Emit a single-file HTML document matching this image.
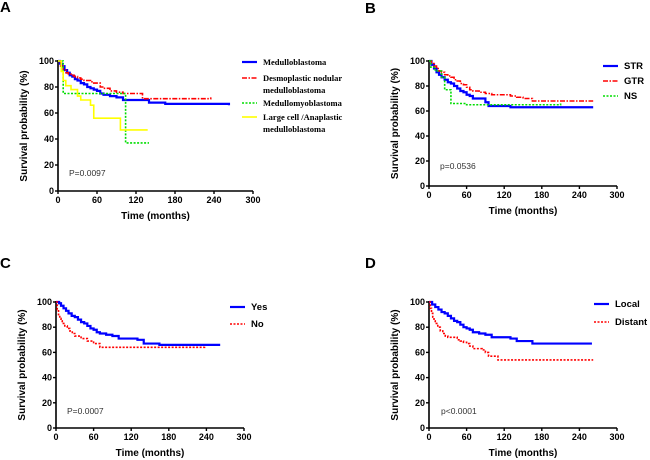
<!DOCTYPE html>
<html><head><meta charset="utf-8"><style>
html,body{margin:0;padding:0;background:#fff;width:650px;height:460px;overflow:hidden}
svg{display:block}
text{font-family:"Liberation Sans",Arial,sans-serif}
.lg{font-family:"Liberation Serif",serif;font-weight:bold;font-size:8.5px}
</style></head><body>
<svg id="c" width="650" height="460"></svg>
<script>
const ticksX=[0,60,120,180,240,300];
const ticksY=[0,20,40,60,80,100];
// Panel A
const aBlueT=[0,3,6,10,14,18,22,26,30,35,40,45,50,55,60,65,70,80,90,100,130,140,165,263];
const aBlueS=[100,98,96,93,91,89,88,86,85,83,82,80,79,78,77,75,74,73,72,70,70,68,67,66];
const aRedT=[0,4,8,12,16,20,25,30,35,40,50,55,60,65,70,80,90,100,128,130,235];
const aRedS=[100,96,93,91,90,89,88,87,86,85,84,83,83,80,79,77,76,75,75,71,72];
const aGreenT=[0,5,8,104,104,140];
const aGreenS=[100,100,75,75,37,37];
const aYellowT=[0,5,8,12,20,30,35,48,50,55,95,96,138];
const aYellowS=[100,92,85,81,78,73,70,70,66,56,56,47,47];
// Panel B
const bStrT=[0,4,8,12,16,20,25,30,35,40,45,50,55,60,65,70,85,90,95,130,262];
const bStrS=[100,97,94,91,89,87,85,83,82,80,78,76,75,73,72,70,70,67,64,63,63];
const bGtrT=[0,4,8,12,16,20,25,30,35,40,45,50,55,60,65,70,80,90,100,110,130,140,150,165,200,262];
const bGtrS=[100,98,96,94,92,91,89,88,87,85,84,82,81,79,77,76,75,74,73,73,72,71,70,68,68,68];
const bNsT=[0,3,10,20,25,35,60,210];
const bNsS=[100,95,92,87,77,66,65,66];
// Panel C
const cYesT=[0,5,8,12,16,20,25,30,35,40,45,50,55,60,65,70,80,90,100,130,140,165,262];
const cYesS=[100,99,97,95,93,91,89,88,86,84,83,81,79,78,76,75,74,73,71,70,67,66,66];
const cNoT=[0,2,4,6,8,10,14,18,22,26,30,40,50,60,70,100,237];
const cNoS=[100,94,90,87,85,83,81,79,77,75,73,71,69,67,64,64,65];
// Panel D
const dLocT=[0,5,10,15,20,25,30,35,40,45,50,55,60,65,70,80,90,100,130,140,165,260];
const dLocS=[100,98,96,94,92,91,89,87,85,84,82,80,79,78,76,75,74,72,71,69,67,67];
const dDisT=[0,2,4,6,8,10,14,18,22,26,30,45,50,55,60,65,70,85,90,95,110,262];
const dDisS=[100,95,91,88,85,83,80,77,75,73,72,70,69,68,67,65,63,62,60,57,54,54];

const NS='http://www.w3.org/2000/svg';
const svg=document.getElementById('c');
function mk(tag,attrs,parent,txt){const e=document.createElementNS(NS,tag);for(const k in attrs)e.setAttribute(k,attrs[k]);if(txt!==undefined)e.textContent=txt;(parent||svg).appendChild(e);return e;}
const styles={blue:{stroke:'#0000ff',w:2.2,dash:''},red:{stroke:'#ff0000',w:1.6,dash:'5,1.5,1.5,1.5'},green:{stroke:'#00dd00',w:1.6,dash:'2,1.5'},yellow:{stroke:'#ffff00',w:1.6,dash:''},reddot:{stroke:'#ff0000',w:1.6,dash:'2,1.5'}};

function panel(p){
  const g=mk('g',{});
  
  
  const sx=t=>p.x0+(p.x1-p.x0)*t/300;
  const sy=s=>p.y0+(p.y100-p.y0)*s/100;
  const lt=mk('text',{x:p.lx,y:p.ly,'font-size':15,'font-weight':'bold'},g,p.letter);
  
  const ax=mk('path',{d:`M${p.x0},${p.y100-1}V${p.y0}H${p.x1}`,stroke:'#000','stroke-width':1.6,fill:'none'},g);
  
  ticksX.forEach(t=>{
    mk('line',{x1:sx(t),x2:sx(t),y1:p.y0,y2:p.y0+3,stroke:'#000','stroke-width':1.4},g);
    const tl=mk('text',{x:sx(t),y:p.y0+12,'font-size':9,'font-weight':'bold','text-anchor':'middle'},g,t);
    
  });
  ticksY.forEach(s=>{
    mk('line',{x1:p.x0-3,x2:p.x0,y1:sy(s),y2:sy(s),stroke:'#000','stroke-width':1.4},g);
    const tl=mk('text',{x:p.x0-4,y:sy(s)+3,'font-size':9,'font-weight':'bold','text-anchor':'end'},g,s);
    
  });
  const xt=mk('text',{x:(p.x0+p.x1)/2,y:p.y0+28,'font-size':10,'font-weight':'bold','text-anchor':'middle'},g,'Time (months)');
  
  const yc=(p.y0+p.y100)/2;
  const yt=mk('text',{x:p.x0-31,y:yc,'font-size':10,'font-weight':'bold','text-anchor':'middle',transform:`rotate(-90 ${p.x0-31} ${yc})`},g,'Survival probability (%)');
  
  const pv=mk('text',{x:p.px,y:p.py,'font-size':8.5,fill:'#333'},g,p.pval);
  
  p.series.forEach(se=>{
    const st=styles[se.style];
    let d=`M${sx(se.t[0])},${sy(se.s[0])}`;
    for(let i=1;i<se.t.length;i++){d+=`H${sx(se.t[i])}V${sy(se.s[i])}`;}
    const path=mk('path',{d:d,fill:'none',stroke:st.stroke,'stroke-width':st.w,'stroke-dasharray':st.dash},g);
    
    
  });
  p.legend.forEach(l=>{
    const st=styles[l.style];
    const lg=mk('g',{},g);
    
    
    mk('line',{x1:p.legX,x2:p.legX+15,y1:l.y,y2:l.y,stroke:st.stroke,'stroke-width':st.w,'stroke-dasharray':st.dash},lg);
    l.lines.forEach((tx,i)=>{
      mk('text',{x:p.legX+21,y:l.y+3+i*12,class:p.serif?'lg':'','font-size':p.serif?8.5:9.5,'font-weight':'bold'},lg,tx);
    });
  });
}
panel({name:'panel-a',letter:'A',lx:0,ly:12,x0:58,x1:253,y0:191,y100:61,px:69,py:176,pval:'P=0.0097',legX:242,serif:true,
 series:[{key:'medulloblastoma',t:aBlueT,s:aBlueS,style:'blue'},{key:'desmoplastic',t:aRedT,s:aRedS,style:'red'},{key:'medullomyoblastoma',t:aGreenT,s:aGreenS,style:'green'},{key:'large-cell',t:aYellowT,s:aYellowS,style:'yellow'}],
 legend:[{y:62,style:'blue',lines:['Medulloblastoma']},{y:78,style:'red',lines:['Desmoplastic nodular','medulloblastoma']},{y:103,style:'green',lines:['Medullomyoblastoma']},{y:117,style:'yellow',lines:['Large cell /Anaplastic','medulloblastoma']}]});
panel({name:'panel-b',letter:'B',lx:365,ly:13,x0:429,x1:617,y0:186,y100:61,px:440,py:169,pval:'p=0.0536',legX:603,
 series:[{key:'str',t:bStrT,s:bStrS,style:'blue'},{key:'gtr',t:bGtrT,s:bGtrS,style:'red'},{key:'ns',t:bNsT,s:bNsS,style:'green'}],
 legend:[{y:66,style:'blue',lines:['STR']},{y:81,style:'red',lines:['GTR']},{y:96,style:'green',lines:['NS']}]});
panel({name:'panel-c',letter:'C',lx:0,ly:268,x0:56,x1:244,y0:428,y100:302,px:67,py:414,pval:'P=0.0007',legX:230,
 series:[{key:'yes',t:cYesT,s:cYesS,style:'blue'},{key:'no',t:cNoT,s:cNoS,style:'reddot'}],
 legend:[{y:307,style:'blue',lines:['Yes']},{y:324,style:'reddot',lines:['No']}]});
panel({name:'panel-d',letter:'D',lx:365,ly:268,x0:429,x1:617,y0:428,y100:302,px:441,py:414,pval:'p<0.0001',legX:594,
 series:[{key:'local',t:dLocT,s:dLocS,style:'blue'},{key:'distant',t:dDisT,s:dDisS,style:'reddot'}],
 legend:[{y:304,style:'blue',lines:['Local']},{y:322,style:'reddot',lines:['Distant']}]});
</script>
</body></html>
